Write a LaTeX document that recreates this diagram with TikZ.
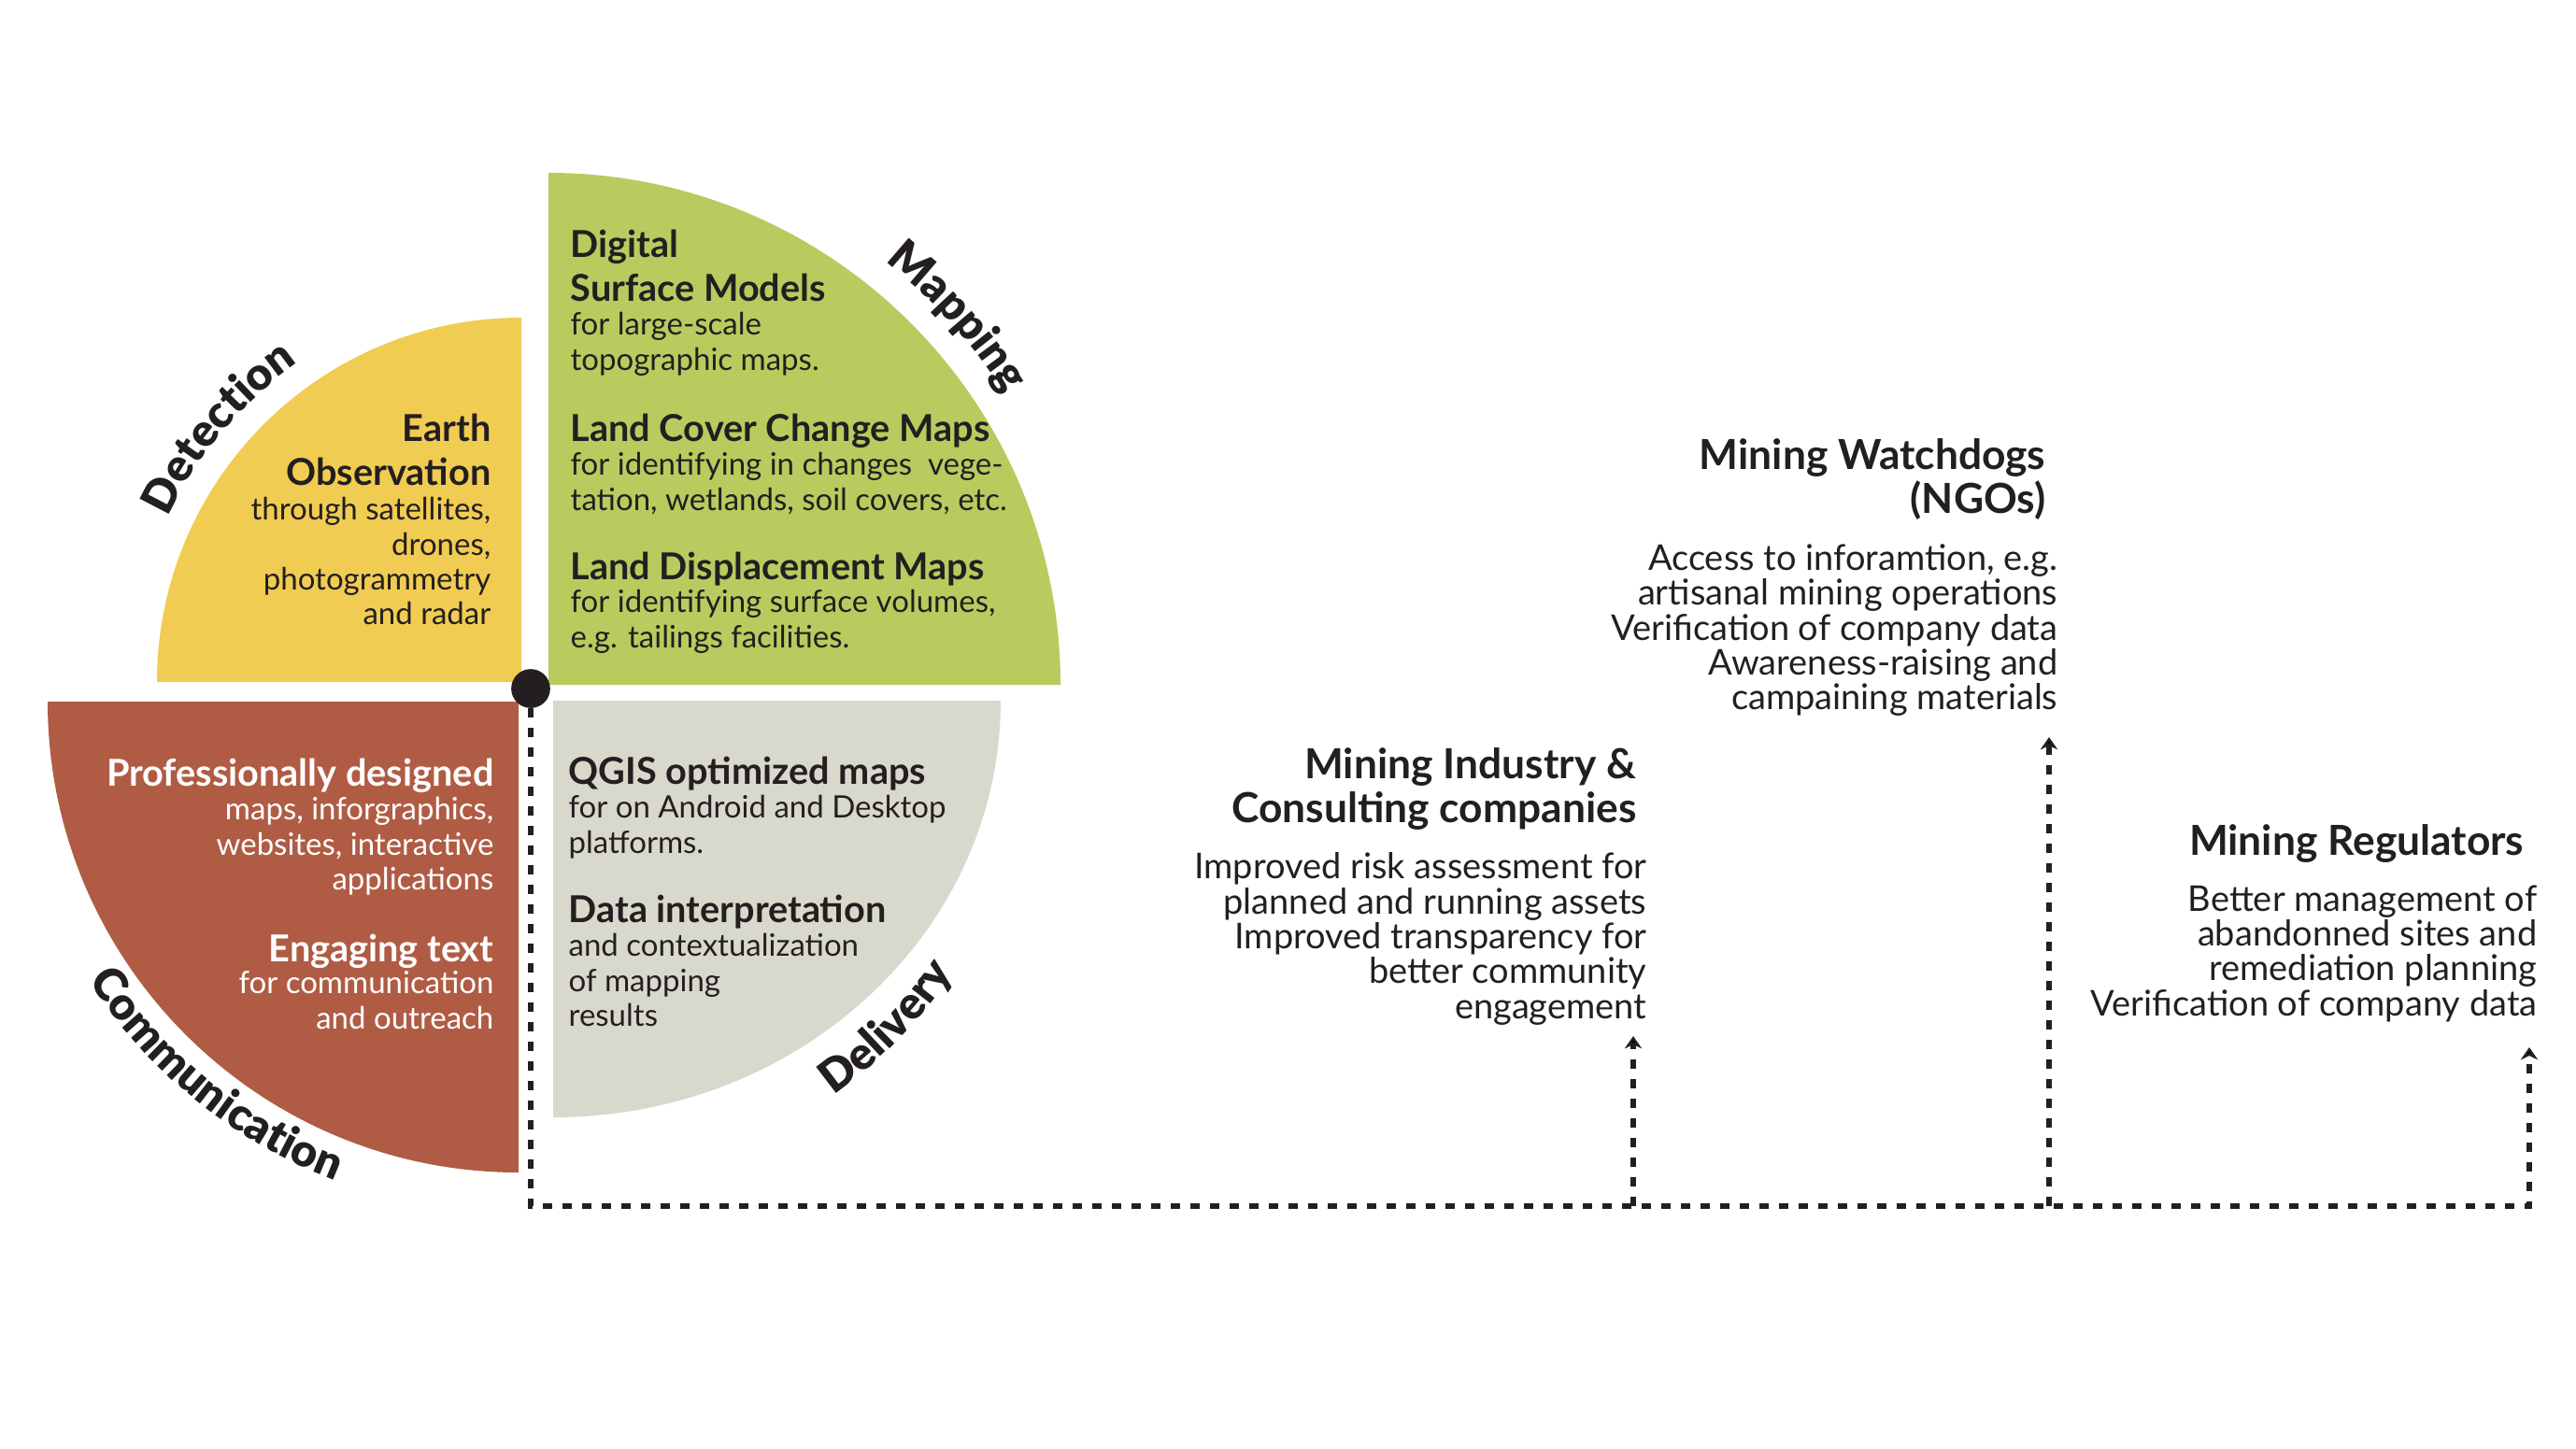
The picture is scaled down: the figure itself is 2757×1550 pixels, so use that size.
\documentclass[tikz,border=0pt]{standalone}
\usepackage{fontspec}
\setmainfont{Lato}
\newfontfamily\armfamily{Lato Black}
\usetikzlibrary{arrows.meta,decorations.text}

\definecolor{ink}{RGB}{35,31,32}
\definecolor{detectcol}{RGB}{241,204,82}
\definecolor{mapcol}{RGB}{185,203,94}
\definecolor{commcol}{RGB}{176,92,69}
\definecolor{delivcol}{RGB}{217,216,204}
\newcommand\armfont{\armfamily\fontsize{14.5}{16}\selectfont}

\begin{document}
\begin{tikzpicture}[x=0.3pt,y=-0.3pt,
  head/.style={font=\fontsize{11.9}{14.1}\selectfont\bfseries, text=ink, inner sep=0pt},
  body/.style={font=\fontsize{9.9}{11.2}\selectfont, text=ink, inner sep=0pt},
  userhead/.style={font=\fontsize{13.3}{14.1}\selectfont\bfseries, text=ink, inner sep=0pt},
  userbody/.style={font=\fontsize{11.4}{11.2}\selectfont, text=ink, inner sep=0pt},
  flow/.style={draw=ink, line width=1.7pt, dash pattern={on 3.1pt off 3.2pt}},
  tip/.style={-{Stealth[length=4pt,width=5.5pt]}},
  arm/.style={decorate, decoration={text along path, text align=center, text color=ink}}
]
\useasboundingbox (0,0) rectangle (2757,1550);

%Shape: Quarter Circle [Detection]
\fill [detectcol] (558,730) -- (168,730) arc [start angle=180, end angle=270, radius=390] -- cycle ;
%Shape: Quarter Circle [Mapping]
\fill [mapcol] (587,733) -- (1135,733) arc [start angle=0, end angle=-90, radius=548] -- cycle ;
%Shape: Quarter Circle [Communication]
\fill [commcol] (555,751) -- (51,751) arc [start angle=180, end angle=90, radius=504] -- cycle ;
%Shape: Quarter Ellipse [Delivery]
\fill [delivcol] (592,750) -- (1071,750) arc [start angle=0, end angle=90, x radius=479, y radius=446] -- cycle ;

%Curved Labels
\path [arm, decoration={text={|\armfont|Detection}}] (558,730) ++(-190:417) arc [start angle=-190, end angle=-90, radius=417] ;
\path [arm, decoration={text={|\armfont|Mapping}}] (587,733) ++(-92:579) arc [start angle=-92, end angle=8, radius=579] ;
\path [arm, decoration={text={|\armfont|Communication}}] (555,751) ++(179:549) arc [start angle=179, end angle=79, radius=549] ;
\path [arm, decoration={text={|\armfont|Delivery}}] (592,750) ++(94.4:518) arc [start angle=94.4, end angle=-5.6, radius=518] ;

% Text Node
\draw (526,442) node [head, anchor=north east, align=right] (eoHead) {Earth\\Observation};
% Text Node
\draw (526,532) node [body, anchor=north east, align=right] (eoBody) {through satellites,\\drones,\\photogrammetry\\and radar};
% Text Node
\draw (610,245) node [head, anchor=north west, align=left] (dsmHead) {Digital\\Surface Models};
% Text Node
\draw (610,334) node [body, anchor=north west, align=left] (dsmBody) {for large-scale\\topographic maps.};
% Text Node
\draw (610,442) node [head, anchor=north west] (lccHead) {Land Cover Change Maps};
% Text Node
\draw (610,484) node [body, anchor=north west, align=left] (lccBody) {for identifying in changes\ \ vege-\\tation, wetlands, soil covers, etc.};
% Text Node
\draw (610,590) node [head, anchor=north west] (ldmHead) {Land Displacement Maps};
% Text Node
\draw (610,631) node [body, anchor=north west, align=left] (ldmBody) {for identifying surface volumes,\\e.g. tailings facilities.};
% Text Node
\draw (529,811) node [head, text=white, anchor=north east] (pdHead) {Professionally designed};
% Text Node
\draw (529,853) node [body, text=white, anchor=north east, align=right] (pdBody) {maps, inforgraphics,\\websites, interactive\\applications};
% Text Node
\draw (529,999) node [head, text=white, anchor=north east] (etHead) {Engaging text};
% Text Node
\draw (529,1039) node [body, text=white, anchor=north east, align=right] (etBody) {for communication\\and outreach};
% Text Node
\draw (608,809) node [head, anchor=north west] (qgisHead) {QGIS optimized maps};
% Text Node
\draw (608,851) node [body, anchor=north west, align=left] (qgisBody) {for on Android and Desktop\\platforms.};
% Text Node
\draw (608,957) node [head, anchor=north west] (diHead) {Data interpretation};
% Text Node
\draw (608,999) node [body, anchor=north west, align=left] (diBody) {and contextualization\\of mapping\\results};

% Text Node
\draw (2190,469) node [userhead, anchor=north east, align=right] (ngoHead) {Mining Watchdogs\\(NGOs)};
% Text Node
\draw (2203,582) node [userbody, anchor=north east, align=right] (ngoBody) {Access to inforamtion, e.g.\\artisanal mining operations\\Verification of company data\\Awareness-raising and\\campaining materials};
% Text Node
\draw (1752,800) node [userhead, anchor=north east, align=right] (indHead) {Mining Industry \&\\Consulting companies};
% Text Node
\draw (1763,912) node [userbody, anchor=north east, align=right] (indBody) {Improved risk assessment for\\planned and running assets\\Improved transparency for\\better community\\engagement};
% Text Node
\draw (2702,882) node [userhead, anchor=north east] (regHead) {Mining Regulators};
% Text Node
\draw (2716,947) node [userbody, anchor=north east, align=right] (regBody) {Better management of\\abandonned sites and\\remediation planning\\Verification of company data};

%Straight Lines
\coordinate (base) at (568,1291);
\coordinate (tipInd) at (1748,1109);
\coordinate (tipNgo) at (2193,789);
\coordinate (tipReg) at (2707,1121);
\draw [flow, tip] (568,737) -- (base) -- (base -| tipReg) -- (tipReg) ;
\draw [flow, tip] (base -| tipInd) -- (tipInd) ;
\draw [flow, tip] (base -| tipNgo) -- (tipNgo) ;

%Shape: Circle
\draw (568,737) node [circle, fill=ink, inner sep=0pt, minimum size=12.5pt] (hub) {};

\end{tikzpicture}
\end{document}
